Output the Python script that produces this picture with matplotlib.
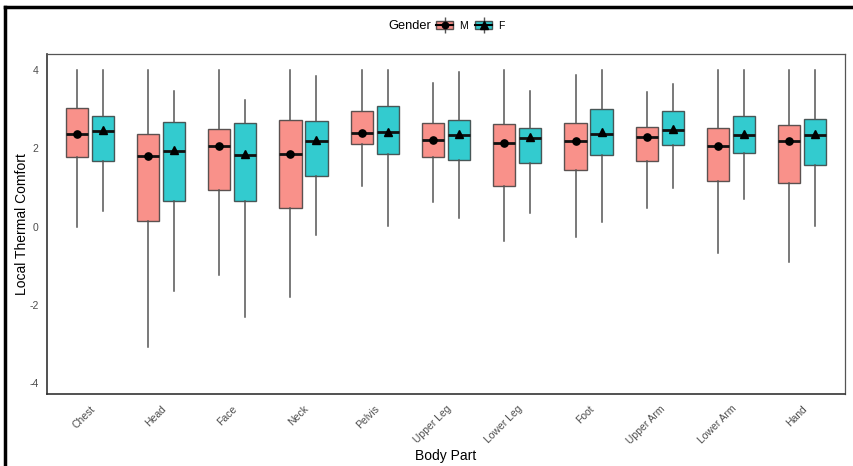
import matplotlib
matplotlib.use("Agg")
import matplotlib.pyplot as plt
from matplotlib.lines import Line2D
from matplotlib.patches import Patch
from matplotlib.legend_handler import HandlerTuple

plt.rcParams['font.family'] = ['Liberation Sans', 'DejaVu Sans']

parts = ["Chest", "Head", "Face", "Neck", "Pelvis", "Upper Leg", "Lower Leg",
         "Foot", "Upper Arm", "Lower Arm", "Hand"]

# box stats, one value per body part
m_low = [0.00, -3.06, -1.24, -1.79, 1.05, 0.62, -0.37, -0.25, 0.48, -0.67, -0.90]
m_q1 = [1.79, 0.15, 0.95, 0.48, 2.11, 1.79, 1.03, 1.46, 1.69, 1.16, 1.11]
m_med = [2.37, 1.80, 2.05, 1.85, 2.40, 2.21, 2.14, 2.18, 2.30, 2.05, 2.18]
m_q3 = [3.02, 2.37, 2.49, 2.72, 2.96, 2.64, 2.62, 2.66, 2.54, 2.51, 2.59]
m_high = [4.00, 4.00, 4.00, 4.00, 4.00, 3.67, 4.00, 3.88, 3.43, 4.00, 4.00]
m_mean = [2.37, 1.80, 2.05, 1.85, 2.40, 2.21, 2.14, 2.18, 2.30, 2.05, 2.18]

f_low = [0.41, -1.63, -2.31, -0.22, 0.02, 0.22, 0.36, 0.13, 0.98, 0.70, 0.03]
f_q1 = [1.69, 0.66, 0.65, 1.30, 1.86, 1.70, 1.62, 1.83, 2.09, 1.89, 1.57]
f_med = [2.45, 1.94, 1.83, 2.20, 2.41, 2.35, 2.27, 2.38, 2.47, 2.35, 2.34]
f_q3 = [2.83, 2.68, 2.66, 2.70, 3.08, 2.72, 2.51, 3.01, 2.95, 2.83, 2.76]
f_high = [4.00, 3.47, 3.23, 3.86, 4.00, 3.96, 3.47, 4.00, 3.65, 4.00, 4.00]
f_mean = [2.46, 1.95, 1.85, 2.22, 2.43, 2.38, 2.29, 2.41, 2.50, 2.37, 2.36]

col_m = "#F8766D"
col_f = "#00BFC4"
dodge = 0.1825
bw = 0.31


def make_stats(low, q1, med, q3, high, mean):
    return [dict(whislo=a, q1=b, med=c, q3=d, whishi=e, mean=f, fliers=[])
            for a, b, c, d, e, f in zip(low, q1, med, q3, high, mean)]


fig = plt.figure(figsize=(8.54, 4.66), dpi=100)
ax = fig.add_axes([0.055, 0.1545, 0.9345, 0.7295])

pos = list(range(1, len(parts) + 1))
groups = [
    (make_stats(m_low, m_q1, m_med, m_q3, m_high, m_mean), -dodge, col_m, "o", 5.2),
    (make_stats(f_low, f_q1, f_med, f_q3, f_high, f_mean), dodge, col_f, "^", 6.0),
]
for stats, off, col, mk, ms in groups:
    ax.bxp(stats, positions=[p + off for p in pos], widths=bw,
           patch_artist=True, showmeans=True, showcaps=False, showfliers=False,
           boxprops=dict(facecolor=col, alpha=0.8, edgecolor="#333333", linewidth=1.0),
           whiskerprops=dict(color="#555555", linewidth=1.1),
           medianprops=dict(color="#111111", linewidth=2.0, solid_capstyle="butt"),
           meanprops=dict(marker=mk, markerfacecolor="black", markeredgecolor="black",
                          markersize=ms),
           zorder=2)

ax.set_xlim(0.4, 11.6)
ax.set_ylim(-4.27, 4.41)
ax.set_yticks([-4, -2, 0, 2, 4])
ax.set_yticklabels(["-4", "-2", "0", "2", "4"])
ax.set_xticks(pos)
ax.set_xticklabels(parts, rotation=45, ha="right", va="top", rotation_mode="anchor")
ax.tick_params(axis="both", length=0, labelsize=7.5, labelcolor="#4d4d4d")
ax.tick_params(axis="y", pad=6)
ax.tick_params(axis="x", pad=7)

for s in ax.spines.values():
    s.set_color("#555555")
    s.set_linewidth(0.9)
ax.spines["left"].set_color("#333333")
ax.spines["bottom"].set_color("#333333")
ax.spines["left"].set_linewidth(1.2)
ax.spines["bottom"].set_linewidth(1.2)

ax.set_xlabel("Body Part", fontsize=10, labelpad=2)
ax.set_ylabel("Local Thermal Comfort", fontsize=10, labelpad=0)

# legend at the top, ggplot style
fig.text(0.4543, 0.944, "Gender", fontsize=9.2, ha="left", va="center")
wl = Line2D([], [], color="#555555", marker="|", markersize=12, linestyle="none",
            markeredgewidth=1.0)
h_m = (wl, Patch(facecolor=col_m, alpha=0.8, edgecolor="#333333"),
       Line2D([], [], color="black", linewidth=1.5),
       Line2D([], [], color="black", marker="o", markersize=4.5, linestyle="none"))
h_f = (wl, Patch(facecolor=col_f, alpha=0.8, edgecolor="#333333"),
       Line2D([], [], color="black", linewidth=1.5),
       Line2D([], [], color="black", marker="^", markersize=5.5, linestyle="none"))
fig.legend([h_m, h_f], ["M", "F"], loc="center left", bbox_to_anchor=(0.511, 0.944),
           ncol=2, frameon=False, fontsize=7.5, handlelength=1.6, handleheight=0.8,
           handletextpad=0.6, columnspacing=0.7, borderpad=0, borderaxespad=0,
           handler_map={tuple: HandlerTuple(ndivide=1, pad=0)})

# outer frame of the screenshot
fig.add_artist(Line2D([0.006, 1.0], [0.985, 0.985], color="black", linewidth=2.5,
                      transform=fig.transFigure))
fig.add_artist(Line2D([0.006, 0.006], [0.0, 0.985], color="black", linewidth=2.5,
                      transform=fig.transFigure))

fig.savefig("out.png", dpi=100)
